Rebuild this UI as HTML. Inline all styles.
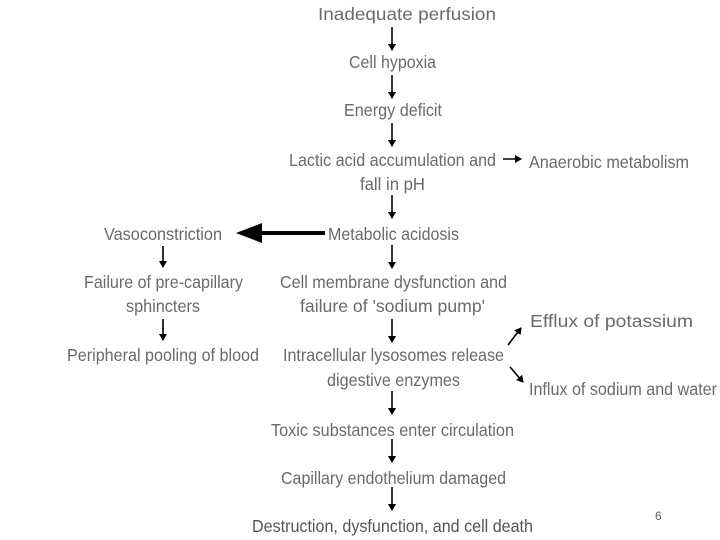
<!DOCTYPE html>
<html><head><meta charset="utf-8"><style>
html,body{margin:0;padding:0;background:#fff;}
svg{display:block;}
text{font-family:"Liberation Sans",Arial,sans-serif;font-size:17.5px;fill:#6a6a6a;}
</style></head><body>
<svg width="720" height="540" viewBox="0 0 720 540" xmlns="http://www.w3.org/2000/svg">
<defs>
<marker id="a" markerWidth="8" markerHeight="8" refX="6" refY="4" orient="auto" markerUnits="userSpaceOnUse"><path d="M0,0 L7,4 L0,8 z" fill="#000"/></marker>
</defs>
<g stroke="#000" stroke-width="1.6" marker-end="url(#a)">
<line x1="392" y1="27" x2="392" y2="50"/>
<line x1="392" y1="75" x2="392" y2="98"/>
<line x1="392" y1="123" x2="392" y2="146"/>
<line x1="392" y1="195" x2="392" y2="218"/>
<line x1="392" y1="245" x2="392" y2="268"/>
<line x1="392" y1="319" x2="392" y2="342"/>
<line x1="392" y1="391" x2="392" y2="414"/>
<line x1="392" y1="439" x2="392" y2="462"/>
<line x1="392" y1="487" x2="392" y2="510"/>
<line x1="163" y1="246" x2="163" y2="267"/>
<line x1="163" y1="319" x2="163" y2="340"/>
<line x1="503" y1="159" x2="521" y2="159"/>
<line x1="508" y1="345" x2="521" y2="328"/>
<line x1="510" y1="367" x2="523" y2="382"/>
</g>
<line x1="325" y1="233" x2="255" y2="233" stroke="#000" stroke-width="4"/>
<path d="M236,233 L262,223 L262,243 z" fill="#000"/>
<text x="318" y="20" textLength="178" lengthAdjust="spacingAndGlyphs">Inadequate perfusion</text>
<text x="349" y="68" textLength="87" lengthAdjust="spacingAndGlyphs">Cell hypoxia</text>
<text x="344" y="116" textLength="98" lengthAdjust="spacingAndGlyphs">Energy deficit</text>
<text x="289" y="166" textLength="207" lengthAdjust="spacingAndGlyphs">Lactic acid accumulation and</text>
<text x="360" y="190" textLength="65" lengthAdjust="spacingAndGlyphs">fall in pH</text>
<text x="529" y="168" textLength="160" lengthAdjust="spacingAndGlyphs">Anaerobic metabolism</text>
<text x="328" y="240" textLength="131" lengthAdjust="spacingAndGlyphs">Metabolic acidosis</text>
<text x="104" y="240" textLength="118" lengthAdjust="spacingAndGlyphs">Vasoconstriction</text>
<text x="84" y="288" textLength="159" lengthAdjust="spacingAndGlyphs">Failure of pre-capillary</text>
<text x="126" y="312" textLength="74" lengthAdjust="spacingAndGlyphs">sphincters</text>
<text x="67" y="361" textLength="192" lengthAdjust="spacingAndGlyphs">Peripheral pooling of blood</text>
<text x="280" y="288" textLength="227" lengthAdjust="spacingAndGlyphs">Cell membrane dysfunction and</text>
<text x="300" y="312" textLength="185" lengthAdjust="spacingAndGlyphs">failure of 'sodium pump'</text>
<text x="283" y="361" textLength="221" lengthAdjust="spacingAndGlyphs">Intracellular lysosomes release</text>
<text x="327" y="386" textLength="133" lengthAdjust="spacingAndGlyphs">digestive enzymes</text>
<text x="530" y="327" textLength="163" lengthAdjust="spacingAndGlyphs">Efflux of potassium</text>
<text x="529" y="395" textLength="188" lengthAdjust="spacingAndGlyphs">Influx of sodium and water</text>
<text x="271" y="436" textLength="243" lengthAdjust="spacingAndGlyphs">Toxic substances enter circulation</text>
<text x="281" y="484" textLength="225" lengthAdjust="spacingAndGlyphs">Capillary endothelium damaged</text>
<text x="252" y="532" textLength="281" lengthAdjust="spacingAndGlyphs" style="fill:#555">Destruction, dysfunction, and cell death</text>
<text x="655" y="520" style="font-size:12px;fill:#666">6</text>
</svg>
</body></html>
